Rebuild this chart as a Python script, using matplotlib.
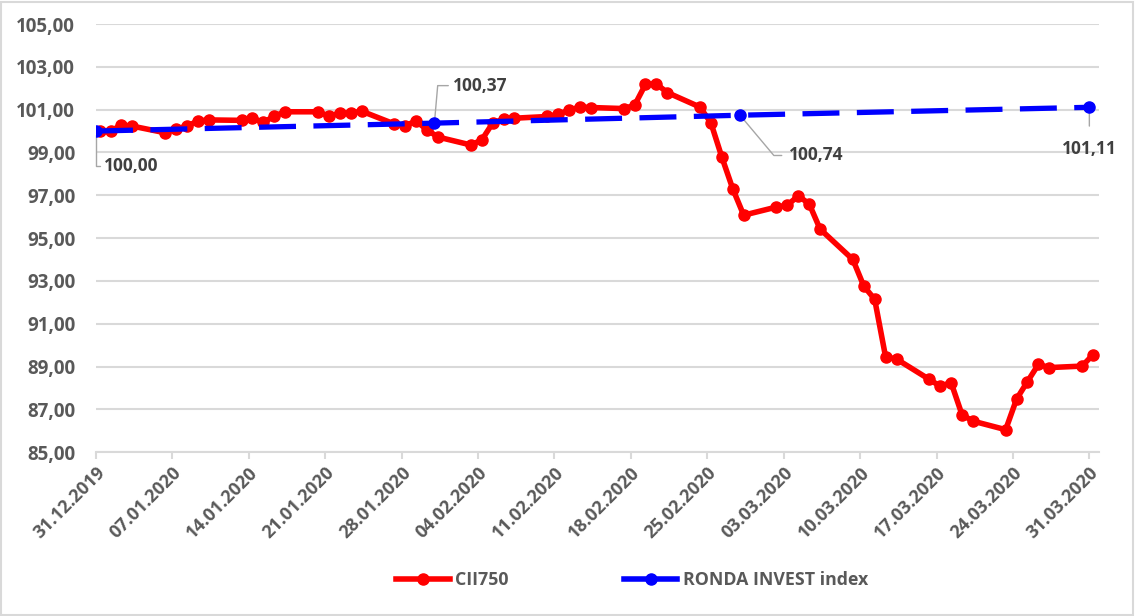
import pandas as pd
import numpy as np
import matplotlib.pyplot as plt
from matplotlib.lines import Line2D
from matplotlib.patches import Rectangle
from matplotlib.ticker import FuncFormatter

plt.rcParams['font.family'] = ['Open Sans', 'DejaVu Sans']

# CII750 daily values
cii_dates = ["31.12.2019", "01.01.2020", "02.01.2020", "03.01.2020",
             "06.01.2020", "07.01.2020", "08.01.2020", "09.01.2020", "10.01.2020",
             "13.01.2020", "14.01.2020", "15.01.2020", "16.01.2020", "17.01.2020",
             "20.01.2020", "21.01.2020", "22.01.2020", "23.01.2020", "24.01.2020",
             "27.01.2020", "28.01.2020", "29.01.2020", "30.01.2020", "31.01.2020",
             "03.02.2020", "04.02.2020", "05.02.2020", "06.02.2020", "07.02.2020",
             "10.02.2020", "11.02.2020", "12.02.2020", "13.02.2020", "14.02.2020",
             "17.02.2020", "18.02.2020", "19.02.2020", "20.02.2020", "21.02.2020",
             "24.02.2020", "25.02.2020", "26.02.2020", "27.02.2020", "28.02.2020",
             "02.03.2020", "03.03.2020", "04.03.2020", "05.03.2020", "06.03.2020",
             "09.03.2020", "10.03.2020", "11.03.2020", "12.03.2020", "13.03.2020",
             "16.03.2020", "17.03.2020", "18.03.2020", "19.03.2020", "20.03.2020",
             "23.03.2020", "24.03.2020", "25.03.2020", "26.03.2020", "27.03.2020",
             "30.03.2020", "31.03.2020"]
cii_values = [100.00, 100.00, 100.28, 100.23,
              99.92, 100.10, 100.23, 100.47, 100.52,
              100.50, 100.60, 100.40, 100.70, 100.90,
              100.90, 100.70, 100.84, 100.84, 100.93,
              100.33, 100.25, 100.47, 100.05, 99.72,
              99.35, 99.58, 100.37, 100.56, 100.60,
              100.68, 100.78, 100.98, 101.12, 101.10,
              101.05, 101.20, 102.18, 102.20, 101.80,
              101.12, 100.38, 98.78, 97.30, 96.07,
              96.45, 96.54, 96.97, 96.60, 95.42,
              94.00, 92.76, 92.14, 89.45, 89.35,
              88.40, 88.08, 88.25, 86.75, 86.45,
              86.05, 87.48, 88.30, 89.10, 88.95,
              89.02, 89.55]

# RONDA INVEST index, month ends
ronda_dates = ["31.12.2019", "31.01.2020", "28.02.2020", "31.03.2020"]
ronda_values = [100.00, 100.37, 100.74, 101.11]

tick_dates = ["31.12.2019", "07.01.2020", "14.01.2020", "21.01.2020", "28.01.2020",
              "04.02.2020", "11.02.2020", "18.02.2020", "25.02.2020", "03.03.2020",
              "10.03.2020", "17.03.2020", "24.03.2020", "31.03.2020"]

# points sit a little right of the day tick in the original
shift = pd.Timedelta(hours=8)
cii_x = pd.to_datetime(cii_dates, format="%d.%m.%Y") + shift
ronda_x = pd.to_datetime(ronda_dates, format="%d.%m.%Y")
ticks_x = pd.to_datetime(tick_dates, format="%d.%m.%Y")

fig = plt.figure(figsize=(11.35, 6.16), dpi=100)
ax = fig.add_axes([0.0846, 0.266, 0.884, 0.695])

ax.plot(cii_x, cii_values, color='#ff0000', lw=4, marker='o', ms=8, zorder=3)
ax.plot(ronda_x, ronda_values, color='#0000ff', lw=3.8, marker='o', ms=8,
        dashes=(7, 3.3), zorder=4)

# data labels with leader lines
lab = dict(fontsize=12.5, fontweight='bold', color='#404040',
           textcoords='offset points', va='center')
lead = '#a6a6a6'
ax.annotate("100,00", (ronda_x[0], ronda_values[0]), xytext=(6, -25), ha='left',
            arrowprops=dict(arrowstyle='-', color=lead, lw=1, shrinkA=1, shrinkB=3,
                            connectionstyle="angle,angleA=0,angleB=90,rad=0"), **lab)
ax.annotate("100,37", (ronda_x[1], ronda_values[1]), xytext=(13, 27), ha='left',
            arrowprops=dict(arrowstyle='-', color=lead, lw=1, shrinkA=1, shrinkB=3,
                            connectionstyle="angle,angleA=0,angleB=85,rad=0"), **lab)
ax.annotate("100,74", (ronda_x[2], ronda_values[2]), xytext=(35, -29), ha='left',
            arrowprops=dict(arrowstyle='-', color=lead, lw=1, shrinkA=3, shrinkB=3,
                            connectionstyle="angle,angleA=0,angleB=-50,rad=0"), **lab)
ax.annotate("101,11", (ronda_x[3], ronda_values[3]), xytext=(0, -30), ha='center',
            arrowprops=dict(arrowstyle='-', color=lead, lw=1, shrinkA=8, shrinkB=3),
            **lab)

ax.set_ylim(85, 105)
ax.set_yticks(np.arange(85, 105.1, 2))
ax.yaxis.set_major_formatter(FuncFormatter(lambda v, p: f"{v:.2f}".replace('.', ',')))
ax.set_xlim(pd.Timestamp("2019-12-31"), pd.Timestamp("2020-03-31") + pd.Timedelta(hours=22))
ax.set_xticks(ticks_x)
ax.set_xticklabels(tick_dates, rotation=45, ha='right', rotation_mode='anchor')

ax.grid(axis='y', color='#d9d9d9', lw=1.5)
ax.set_axisbelow(True)
for s in ['top', 'right', 'left']:
    ax.spines[s].set_visible(False)
ax.spines['bottom'].set_color('#d9d9d9')
ax.spines['bottom'].set_linewidth(1.5)
ax.tick_params(axis='x', colors='#d9d9d9', length=5, width=1.5, pad=3)
ax.tick_params(axis='y', length=0, pad=15)
for t in ax.get_xticklabels():
    t.set_fontsize(13)
for t in ax.get_yticklabels():
    t.set_fontsize(13.5)
for t in ax.get_xticklabels() + ax.get_yticklabels():
    t.set_color('#595959')
    t.set_fontweight('bold')

handles = [Line2D([], [], color='#ff0000', lw=4, marker='o', ms=8),
           Line2D([], [], color='#0000ff', lw=4, marker='o', ms=8)]
fig.legend(handles, ["CII750", "RONDA INVEST index"], loc='center',
           bbox_to_anchor=(0.557, 0.058), ncol=2, frameon=False, handlelength=3,
           handletextpad=0.3, columnspacing=6.5, prop=dict(size=12.8, weight='bold'),
           labelcolor='#595959')

fig.patches.append(Rectangle((0.001, 0.002), 0.997, 0.995, transform=fig.transFigure,
                             fill=False, edgecolor='#d9d9d9', lw=1.5))

fig.savefig("out.png", dpi=100)
